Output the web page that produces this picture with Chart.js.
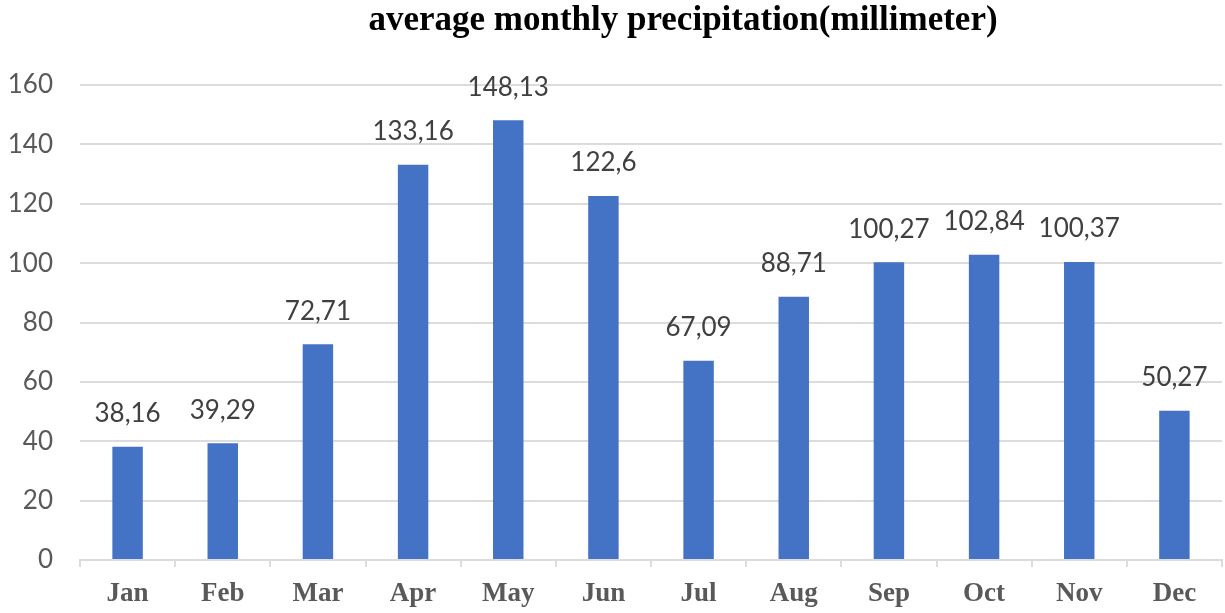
<!DOCTYPE html>
<html>
<head>
<meta charset="utf-8">
<script src="https://cdn.jsdelivr.net/npm/chart.js@4"></script>
<style>
  html, body { margin: 0; padding: 0; background: #ffffff; }
  #wrap { width: 1225px; height: 613px; }
</style>
</head>
<body>
<div id="wrap"><canvas id="chart" width="1225" height="613"></canvas></div>
<script>
// Average monthly precipitation, millimetres
const months = ['Jan', 'Feb', 'Mar', 'Apr', 'May', 'Jun', 'Jul', 'Aug', 'Sep', 'Oct', 'Nov', 'Dec'];
const precipitation = [38.16, 39.29, 72.71, 133.16, 148.13, 122.6, 67.09, 88.71, 100.27, 102.84, 100.37, 50.27];
const yTicks = [0, 20, 40, 60, 80, 100, 120, 140, 160];
const chartTitle = 'average monthly precipitation(millimeter)';

const BAR_BLUE = '#4472C4';
const GRID_GREY = '#dcdcdc';
const SERIF = '"Liberation Serif", "Times New Roman", serif';
const SANS = 'Lato, "Open Sans", sans-serif';

// Heading, set slightly right of the canvas centre
const heading = {
  id: 'heading',
  afterDraw(chart) {
    const ctx = chart.ctx;
    ctx.save();
    ctx.font = 'bold 35px ' + SERIF;
    ctx.fillStyle = '#000000';
    ctx.textAlign = 'center';
    ctx.textBaseline = 'alphabetic';
    ctx.fillText(chartTitle, 683, 30);
    ctx.restore();
  }
};

// Writes each bar's value above it, with a decimal comma
const valueLabels = {
  id: 'valueLabels',
  afterDatasetsDraw(chart) {
    const ctx = chart.ctx;
    const meta = chart.getDatasetMeta(0);
    ctx.save();
    ctx.font = '26px ' + SANS;
    ctx.fillStyle = '#404040';
    ctx.textAlign = 'center';
    ctx.textBaseline = 'middle';
    meta.data.forEach((bar, i) => {
      const text = String(precipitation[i]).replace('.', ',');
      ctx.fillText(text, bar.x, bar.y - 33);
    });
    ctx.restore();
  }
};

new Chart(document.getElementById('chart'), {
  type: 'bar',
  data: {
    labels: months,
    datasets: [{
      data: precipitation,
      backgroundColor: BAR_BLUE,
      borderWidth: 0,
      categoryPercentage: 1,
      barPercentage: 0.32
    }]
  },
  options: {
    responsive: false,
    animation: false,
    layout: { padding: { top: 85, right: 3, bottom: 0, left: 0 } },
    plugins: {
      legend: { display: false },
      tooltip: { enabled: false },
      title: { display: false }
    },
    scales: {
      x: {
        afterFit(scale) { scale.height = 53; },
        grid: {
          display: true,
          offset: true,
          drawOnChartArea: false,
          drawTicks: true,
          tickLength: 7,
          color: GRID_GREY,
          lineWidth: 2
        },
        border: { display: true, color: GRID_GREY, width: 2 },
        ticks: {
          color: '#595959',
          padding: 11,
          font: { family: SERIF, size: 27, weight: 'bold' }
        }
      },
      y: {
        min: 0,
        max: 160,
        afterFit(scale) { scale.width = 80; },
        afterBuildTicks(scale) { scale.ticks = yTicks.map(v => ({ value: v })); },
        grid: { color: GRID_GREY, lineWidth: 2, drawTicks: false },
        border: { display: false },
        ticks: {
          color: '#595959',
          padding: 27,
          font: { family: SANS, size: 26 }
        }
      }
    }
  },
  plugins: [valueLabels, heading]
});
</script>
</body>
</html>
